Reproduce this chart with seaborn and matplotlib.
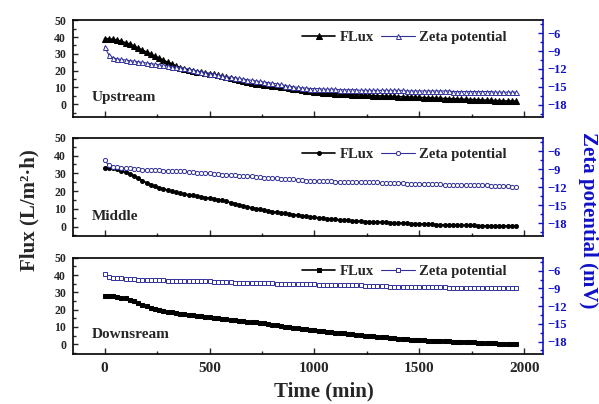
import numpy as np
import seaborn as sns
import matplotlib
matplotlib.use("Agg")
import matplotlib.pyplot as plt
from matplotlib.ticker import MultipleLocator

# 时间 (min)，每 20 min 一个点
time = np.arange(0, 1980, 20)

panels = ["Upstream", "Middle", "Downsream"]

flux_up = [39.0, 38.9, 38.6, 38.1, 37.4, 36.6, 35.7, 34.6, 33.4, 32.2,
           31.0, 29.8, 28.6, 27.4, 26.2, 25.0, 23.9, 22.8, 21.7, 21.0,
           20.4, 19.9, 19.4, 19.0, 18.6, 18.2, 17.7, 17.2, 16.6, 16.0,
           15.4, 14.8, 14.2, 13.6, 13.1, 12.6, 12.2, 11.9, 11.6, 11.3,
           11.0, 10.7, 10.4, 10.0, 9.6, 9.2, 8.8, 8.4, 8.0, 7.7,
           7.4, 7.1, 6.9, 6.7, 6.5, 6.3, 6.1, 6.0, 5.8, 5.7,
           5.6, 5.5, 5.3, 5.2, 5.1, 5.0, 4.9, 4.8, 4.7, 4.6,
           4.5, 4.4, 4.3, 4.2, 4.1, 4.0, 3.9, 3.8, 3.7, 3.6,
           3.5, 3.4, 3.3, 3.2, 3.1, 3.0, 2.9, 2.8, 2.7, 2.6,
           2.5, 2.4, 2.3, 2.2, 2.1, 2.0, 1.9, 1.9, 1.8]
zeta_up = [-8.3, -9.6, -10.1, -10.3, -10.4, -10.5, -10.6, -10.7, -10.8, -10.9,
           -11.0, -11.1, -11.2, -11.3, -11.4, -11.5, -11.6, -11.7, -11.8, -11.9,
           -12.0, -12.2, -12.3, -12.5, -12.6, -12.8, -12.9, -13.0, -13.2, -13.3,
           -13.4, -13.5, -13.6, -13.7, -13.8, -13.9, -14.0, -14.1, -14.2, -14.3,
           -14.4, -14.5, -14.6, -14.8, -14.9, -15.0, -15.1, -15.2, -15.2, -15.3,
           -15.3, -15.3, -15.4, -15.4, -15.4, -15.4, -15.5, -15.5, -15.5, -15.5,
           -15.5, -15.6, -15.6, -15.6, -15.6, -15.6, -15.6, -15.6, -15.6, -15.6,
           -15.6, -15.6, -15.7, -15.7, -15.7, -15.7, -15.7, -15.7, -15.7, -15.7,
           -15.7, -15.7, -15.7, -15.8, -15.8, -15.8, -15.8, -15.8, -15.8, -15.8,
           -15.8, -15.8, -15.8, -15.9, -15.9, -15.9, -15.9, -15.9, -15.9]

flux_mid = [33.0, 32.9, 32.7, 32.2, 31.5, 30.6, 29.6, 28.4, 27.1, 25.8,
            24.6, 23.6, 22.7, 21.9, 21.2, 20.5, 19.9, 19.3, 18.8, 18.3,
            17.9, 17.5, 17.1, 16.7, 16.3, 16.0, 15.6, 15.2, 14.7, 14.1,
            13.5, 12.9, 12.3, 11.7, 11.1, 10.6, 10.1, 9.6, 9.2, 8.8,
            8.4, 8.0, 7.7, 7.4, 7.0, 6.7, 6.4, 6.1, 5.8, 5.5,
            5.2, 4.9, 4.6, 4.4, 4.2, 4.0, 3.8, 3.6, 3.4, 3.2,
            3.1, 2.9, 2.8, 2.7, 2.6, 2.5, 2.4, 2.3, 2.2, 2.1,
            2.0, 1.9, 1.8, 1.7, 1.6, 1.5, 1.4, 1.3, 1.2, 1.1,
            1.0, 0.9, 0.9, 0.8, 0.8, 0.7, 0.7, 0.6, 0.6, 0.5,
            0.5, 0.4, 0.4, 0.3, 0.3, 0.3, 0.2, 0.2, 0.2]
zeta_mid = [-7.5, -8.4, -8.6, -8.7, -8.8, -8.9, -8.9, -9.0, -9.0, -9.1,
            -9.1, -9.2, -9.2, -9.2, -9.3, -9.3, -9.3, -9.4, -9.4, -9.4,
            -9.5, -9.5, -9.6, -9.6, -9.7, -9.7, -9.8, -9.8, -9.9, -9.9,
            -10.0, -10.0, -10.1, -10.1, -10.2, -10.2, -10.3, -10.3, -10.4, -10.4,
            -10.5, -10.5, -10.6, -10.6, -10.7, -10.7, -10.8, -10.8, -10.9, -10.9,
            -10.9, -11.0, -11.0, -11.0, -11.0, -11.1, -11.1, -11.1, -11.1, -11.1,
            -11.2, -11.2, -11.2, -11.2, -11.2, -11.2, -11.3, -11.3, -11.3, -11.3,
            -11.3, -11.3, -11.4, -11.4, -11.4, -11.4, -11.5, -11.5, -11.5, -11.5,
            -11.5, -11.6, -11.6, -11.6, -11.6, -11.6, -11.7, -11.7, -11.7, -11.7,
            -11.7, -11.7, -11.8, -11.8, -11.8, -11.8, -11.8, -11.9, -11.9]

flux_down = [27.9, 27.9, 27.7, 27.4, 27.0, 26.5, 25.8, 25.0, 24.0, 22.9,
             21.9, 21.0, 20.3, 19.7, 19.2, 18.8, 18.4, 18.0, 17.6, 17.3,
             17.0, 16.7, 16.4, 16.1, 15.8, 15.6, 15.3, 15.1, 14.8, 14.5,
             14.2, 14.0, 13.7, 13.4, 13.1, 12.9, 12.6, 12.3, 12.0, 11.6,
             11.2, 10.9, 10.6, 10.2, 9.9, 9.6, 9.2, 8.9, 8.6, 8.4,
             8.1, 7.8, 7.5, 7.3, 7.0, 6.7, 6.5, 6.2, 6.0, 5.7,
             5.5, 5.2, 5.0, 4.8, 4.6, 4.3, 4.1, 3.9, 3.7, 3.5,
             3.3, 3.1, 2.9, 2.7, 2.6, 2.4, 2.3, 2.1, 2.0, 1.9,
             1.8, 1.7, 1.6, 1.5, 1.4, 1.3, 1.2, 1.1, 1.0, 0.9,
             0.8, 0.7, 0.6, 0.5, 0.4, 0.4, 0.3, 0.3, 0.2]
zeta_down = [-6.5, -7.0, -7.2, -7.3, -7.3, -7.4, -7.4, -7.4, -7.5, -7.5,
             -7.5, -7.6, -7.6, -7.6, -7.6, -7.7, -7.7, -7.7, -7.7, -7.7,
             -7.8, -7.8, -7.8, -7.8, -7.8, -7.8, -7.9, -7.9, -7.9, -7.9,
             -7.9, -8.0, -8.0, -8.0, -8.0, -8.0, -8.1, -8.1, -8.1, -8.1,
             -8.1, -8.2, -8.2, -8.2, -8.2, -8.2, -8.3, -8.3, -8.3, -8.3,
             -8.3, -8.4, -8.4, -8.4, -8.4, -8.4, -8.5, -8.5, -8.5, -8.5,
             -8.5, -8.5, -8.6, -8.6, -8.6, -8.6, -8.6, -8.6, -8.7, -8.7,
             -8.7, -8.7, -8.7, -8.7, -8.7, -8.8, -8.8, -8.8, -8.8, -8.8,
             -8.8, -8.8, -8.9, -8.9, -8.9, -8.9, -8.9, -8.9, -8.9, -9.0,
             -9.0, -9.0, -9.0, -9.0, -9.0, -9.0, -9.0, -9.0, -9.0]

flux_all = [flux_up, flux_mid, flux_down]
zeta_all = [zeta_up, zeta_mid, zeta_down]
markers = ["^", "o", "s"]

sns.set_style("ticks")
plt.rcParams["font.family"] = ["Liberation Serif", "DejaVu Serif"]
plt.rcParams["font.weight"] = "bold"

blue = "#1010c8"
navy = "#30309a"

fig = plt.figure(figsize=(5.99, 4.04), dpi=100)
# 三个子图的位置 (left, bottom, width, height)
boxes = [(0.122, 0.710, 0.785, 0.240),
         (0.122, 0.416, 0.785, 0.243),
         (0.122, 0.124, 0.785, 0.238)]
flux_lims = [(-7.7, 50), (-5.3, 50), (-5.6, 50)]
leg_y = [0.825, 0.83, 0.86]

for i in range(3):
    ax = fig.add_axes(boxes[i])
    ax2 = ax.twinx()
    m = markers[i]
    fs = 3.8 if m == "^" else 2.8
    zs = 3.6 if m == "^" else 3.0
    sns.lineplot(x=time, y=flux_all[i], ax=ax, color="black", marker=m,
                 markersize=fs, mec="black", linewidth=1.2, label="FLux", legend=False)
    sns.lineplot(x=time, y=zeta_all[i], ax=ax2, color=navy, marker=m,
                 markersize=zs, mfc="white", mec=navy, mew=0.7, linewidth=0.8,
                 label="Zeta potential", legend=False)

    ax.set_xlim(-150, 2090)
    ax.set_ylim(*flux_lims[i])
    ax2.set_ylim(-20.1, -3.8)
    ax.set_xlabel("")
    ax.set_ylabel("")
    ax2.set_ylabel("")

    ax.xaxis.set_major_locator(MultipleLocator(500))
    ax.xaxis.set_minor_locator(MultipleLocator(250))
    ax.yaxis.set_major_locator(MultipleLocator(10))
    ax.yaxis.set_minor_locator(MultipleLocator(5))
    ax2.yaxis.set_major_locator(MultipleLocator(3))
    ax2.yaxis.set_minor_locator(MultipleLocator(1.5))
    ax2.set_yticks([-18, -15, -12, -9, -6])

    ax.tick_params(axis="x", which="major", direction="in", length=4.5, width=1, pad=6,
                   labelsize=11, top=False)
    ax.tick_params(axis="x", which="minor", direction="in", length=2.5, width=1, top=False)
    ax.tick_params(axis="y", which="major", direction="in", length=3.5, width=1, pad=5,
                   labelsize=8.5, right=False)
    ax.tick_params(axis="y", which="minor", direction="in", length=2, width=1, right=False)
    ax2.tick_params(axis="y", which="major", direction="in", length=3.5, width=1, pad=3,
                    labelsize=9, colors=blue)
    ax2.tick_params(axis="y", which="minor", direction="in", length=2, width=1, colors=blue)
    if i < 2:
        ax.set_xticklabels([])

    for sp in ["left", "bottom", "top"]:
        ax.spines[sp].set_linewidth(1.2)
        ax.spines[sp].set_color("black")
        ax2.spines[sp].set_visible(False)
    ax.spines["right"].set_visible(False)
    ax2.spines["right"].set_color(blue)
    ax2.spines["right"].set_linewidth(1.2)

    ax.text(0.04, 0.2, panels[i], transform=ax.transAxes, fontsize=11,
            fontweight="bold", va="center", ha="left")

    h1, l1 = ax.get_legend_handles_labels()
    h2, l2 = ax2.get_legend_handles_labels()
    ax2.legend(h1 + h2, l1 + l2, ncol=2, frameon=False, loc="center right",
               bbox_to_anchor=(0.935, leg_y[i]), handlelength=2.3,
               handletextpad=0.3, columnspacing=0.5, borderaxespad=0,
               prop={"weight": "bold", "size": 10.5})

fig.text(0.54, 0.03, "Time (min)", ha="center", va="center", fontsize=15, fontweight="bold")
fig.text(0.05, 0.48, "Flux (L/m²·h)", ha="center", va="center", rotation=90,
         fontsize=15, fontweight="bold")
fig.text(0.982, 0.455, "Zeta potential (mV)", ha="center", va="center", rotation=270,
         fontsize=15, fontweight="bold", color=blue)

fig.savefig("out.png", dpi=100)
